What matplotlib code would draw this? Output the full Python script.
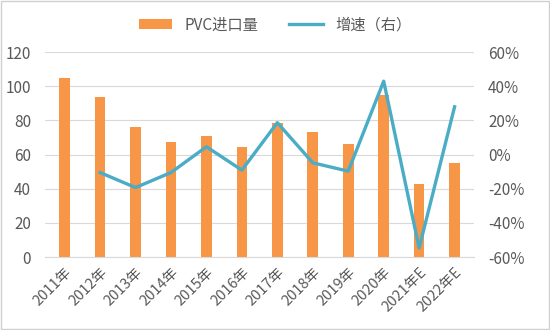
import matplotlib.pyplot as plt
from matplotlib.ticker import FuncFormatter
import numpy as np

plt.rcParams['font.family'] = ['Noto Sans CJK SC', 'DejaVu Sans']

years = ["2011年", "2012年", "2013年", "2014年", "2015年", "2016年",
         "2017年", "2018年", "2019年", "2020年", "2021年E", "2022年E"]
imports = [105, 94, 76, 67.5, 71, 64.7, 78.5, 73.3, 66.3, 95, 43, 55]
growth = [None, -10.5, -19.3, -10.5, 4.6, -9.1, 18.7, -4.8, -9.7, 43, -54.7, 28]

gray = "#595959"
x = np.arange(len(years))

fig = plt.figure(figsize=(5.5, 3.3), dpi=100)
ax = fig.add_axes([0.082, 0.221, 0.78, 0.621])
ax2 = ax.twinx()

bars = ax.bar(x, imports, width=0.3, color="#F79646", label="PVC进口量", zorder=2)
gx = [i for i, g in zip(x, growth) if g is not None]
gy = [g for g in growth if g is not None]
line, = ax2.plot(gx, gy, color="#4BACC6", lw=2.4, label="增速（右）", zorder=3)

ax.set_ylim(0, 120)
ax.set_yticks(range(0, 121, 20))
ax2.set_ylim(-60, 60)
ax2.set_yticks(range(-60, 61, 20))
ax2.yaxis.set_major_formatter(FuncFormatter(lambda v, p: f"{v:.0f}%"))
ax.set_xlim(-0.55, len(years) - 0.45)

ax.grid(axis="y", color="#d9d9d9", lw=0.8, zorder=0)
ax.set_xticks(x)
ax.set_xticklabels(years, rotation=45, ha="right", rotation_mode="anchor")

for a in (ax, ax2):
    for s in a.spines.values():
        s.set_visible(False)
    a.tick_params(length=0, colors=gray, labelsize=11)
ax.tick_params(axis="x", labelsize=10.5, pad=6)
ax.spines["bottom"].set_visible(True)
ax.spines["bottom"].set_color("#d9d9d9")
ax2.tick_params(pad=10)
ax.tick_params(axis="y", pad=10)

fig.legend([bars, line], ["PVC进口量", "增速（右）"], loc="center",
           bbox_to_anchor=(0.5, 0.925), ncol=2, frameon=False,
           fontsize=11, labelcolor=gray, handlelength=2.2, columnspacing=2)

fig.patches.append(plt.Rectangle((0.002, 0.003), 0.996, 0.994, transform=fig.transFigure,
                                 fill=False, edgecolor="#d0d0d0", lw=1))

plt.savefig("out.png")
